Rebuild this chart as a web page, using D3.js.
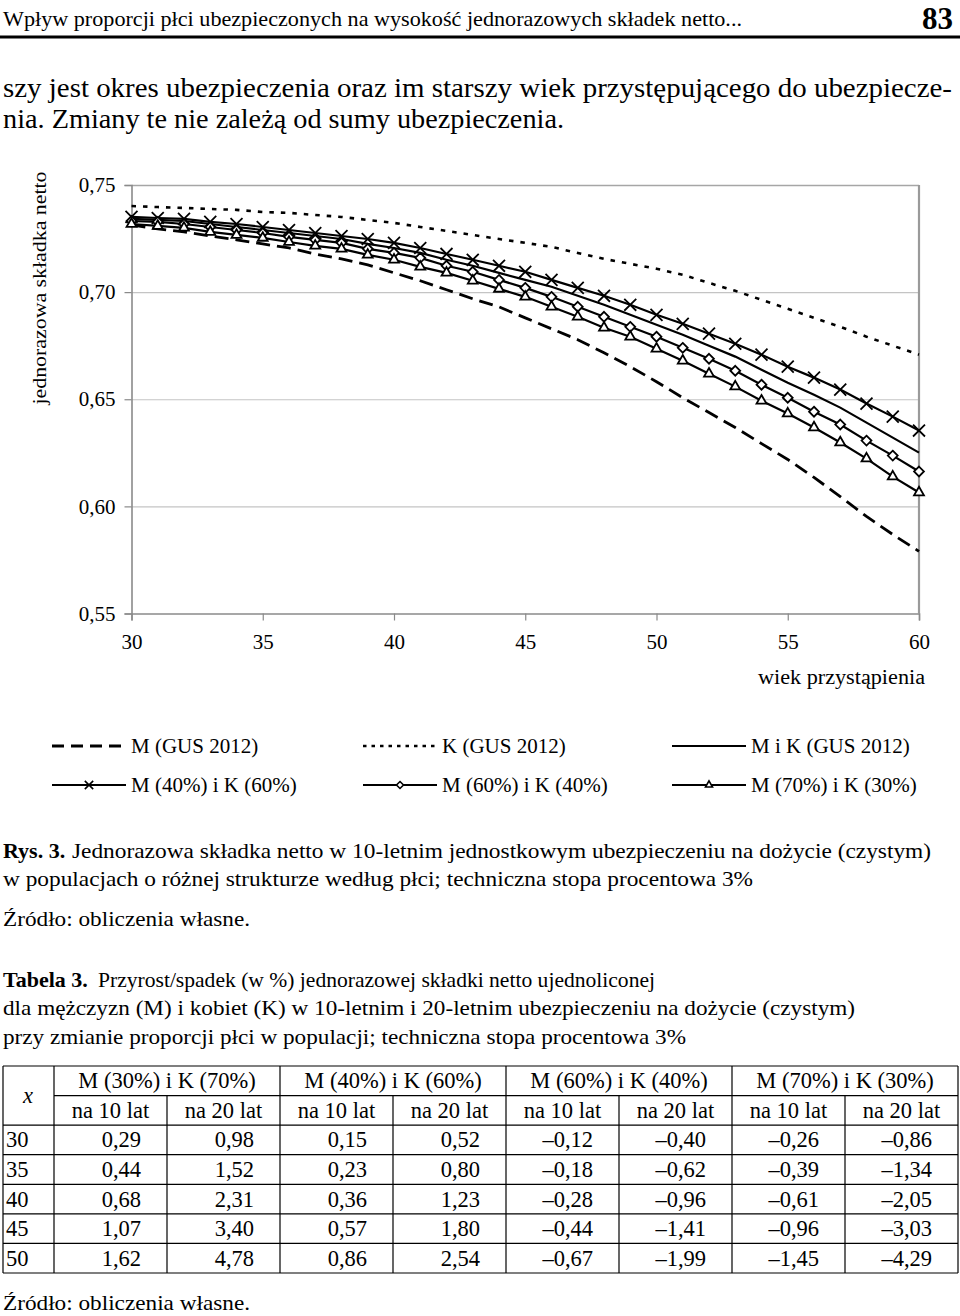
<!DOCTYPE html>
<html>
<head>
<meta charset="utf-8">
<script src="https://cdn.jsdelivr.net/npm/d3@7"></script>
<style>
body { margin: 0; background: #fff; }
svg, svg text { font-family: "Liberation Serif", "Times New Roman", serif; }
svg { display: block; }
</style>
</head>
<body>
<div id="page"></div>
<script>
// values (Rys. 3)
var ages = [30,31,32,33,34,35,36,37,38,39,40,41,42,43,44,45,46,47,48,49,50,51,52,53,54,55,56,57,58,59,60];

var mGus   = [0.7314,0.7295,0.7281,0.7262,0.7244,0.7225,0.7206,0.7178,0.7155,0.7127,0.7090,0.7053,0.7011,0.6969,0.6931,0.6880,0.6829,0.6778,0.6717,0.6652,0.6582,0.6507,0.6438,0.6368,0.6293,0.6219,0.6135,0.6046,0.5953,0.5869,0.5790];
var kGus   = [0.7402,0.7397,0.7393,0.7388,0.7384,0.7374,0.7370,0.7360,0.7351,0.7337,0.7323,0.7304,0.7286,0.7267,0.7248,0.7230,0.7211,0.7183,0.7155,0.7132,0.7109,0.7081,0.7043,0.7006,0.6964,0.6922,0.6880,0.6838,0.6792,0.6750,0.6708];
var mkGus  = [0.7342,0.7337,0.7332,0.7318,0.7304,0.7290,0.7276,0.7262,0.7248,0.7225,0.7206,0.7183,0.7151,0.7123,0.7090,0.7057,0.7025,0.6983,0.6941,0.6894,0.6848,0.6801,0.6750,0.6699,0.6638,0.6577,0.6521,0.6461,0.6391,0.6321,0.6251];
var m40k60 = [0.7351,0.7346,0.7342,0.7328,0.7318,0.7304,0.7290,0.7276,0.7262,0.7248,0.7230,0.7206,0.7178,0.7151,0.7123,0.7095,0.7057,0.7020,0.6983,0.6941,0.6894,0.6852,0.6806,0.6759,0.6708,0.6652,0.6601,0.6545,0.6480,0.6419,0.6354];
var m60k40 = [0.7332,0.7328,0.7318,0.7304,0.7290,0.7276,0.7258,0.7244,0.7230,0.7202,0.7183,0.7160,0.7123,0.7095,0.7057,0.7020,0.6978,0.6932,0.6885,0.6838,0.6792,0.6740,0.6689,0.6633,0.6568,0.6507,0.6442,0.6382,0.6307,0.6237,0.6163];
var m70k30 = [0.7318,0.7309,0.7300,0.7281,0.7267,0.7253,0.7234,0.7216,0.7202,0.7174,0.7151,0.7118,0.7090,0.7053,0.7015,0.6978,0.6932,0.6885,0.6834,0.6792,0.6736,0.6680,0.6619,0.6559,0.6493,0.6433,0.6368,0.6298,0.6223,0.6139,0.6065];

var seriesNames = ['M (GUS 2012)', 'K (GUS 2012)', 'M i K (GUS 2012)',
                   'M (40%) i K (60%)', 'M (60%) i K (40%)', 'M (70%) i K (30%)'];
var xTicks = [30,35,40,45,50,55,60];
var yTicks = [0.55,0.60,0.65,0.70,0.75];

// Tabela 3
var tabAges    = [30,35,40,45,50];
var tabGroups  = ['M (30%) i K (70%)', 'M (40%) i K (60%)', 'M (60%) i K (40%)', 'M (70%) i K (30%)'];
var tabSub     = ['na 10 lat', 'na 20 lat'];
var m30k70_10  = [0.29,0.44,0.68,1.07,1.62];
var m30k70_20  = [0.98,1.52,2.31,3.40,4.78];
var m40k60_10  = [0.15,0.23,0.36,0.57,0.86];
var m40k60_20  = [0.52,0.80,1.23,1.80,2.54];
var m60k40_10  = [-0.12,-0.18,-0.28,-0.44,-0.67];
var m60k40_20  = [-0.40,-0.62,-0.96,-1.41,-1.99];
var m70k30_10  = [-0.26,-0.39,-0.61,-0.96,-1.45];
var m70k30_20  = [-0.86,-1.34,-2.05,-3.03,-4.29];

var pl = d3.formatLocale({decimal: ',', thousands: ' ', grouping: [3], currency: ['', ''], minus: '\u2013'});
var f2 = pl.format('.2f');

var svg = d3.select('#page').append('svg')
            .attr('width', 960)
            .attr('height', 1316)
            .attr('font-family', 'Liberation Serif, Times New Roman, serif');
svg.append('rect').attr('width', 960).attr('height', 1316).attr('fill', '#fff');

function line(txt, x, y, size, len, opts) {
	opts = opts || {};
	var t = svg.append('text')
	           .attr('x', x).attr('y', y)
	           .attr('font-size', size)
	           .attr('text-anchor', opts.anchor || 'start')
	           .attr('font-weight', opts.bold ? 'bold' : null)
	           .text(txt);
	if (len) t.attr('textLength', len).attr('lengthAdjust', 'spacingAndGlyphs');
	return t;
}

// page header
line('Wpływ proporcji płci ubezpieczonych na wysokość jednorazowych składek netto...', 3, 26, 21, 739);
line('83', 953, 29, 31, null, {anchor: 'end', bold: true});
svg.append('line').attr('x1', 0).attr('x2', 960).attr('y1', 37).attr('y2', 37)
   .attr('stroke', '#000').attr('stroke-width', 3);

line('szy jest okres ubezpieczenia oraz im starszy wiek przystępującego do ubezpiecze-', 3, 97, 27, 949);
line('nia. Zmiany te nie zależą od sumy ubezpieczenia.', 3, 128, 27, 561);

// ---- chart ----
var x = d3.scaleLinear().domain([30, 60]).range([131.5, 919]);
var y = d3.scaleLinear().domain([0.55, 0.75]).range([613.5, 185]);

var grid = svg.append('g').attr('transform', 'translate(' + x(30) + ',0)')
              .call(d3.axisLeft(y).tickValues(yTicks.slice(1)).tickSize(-(x(60) - x(30))).tickFormat(''));
grid.select('.domain').remove();
grid.selectAll('line').attr('stroke', '#c4c4c4').attr('stroke-width', 1.2);
grid.selectAll('.tick').filter(function(d) { return d === 0.75; })
    .select('line').attr('stroke', '#a6a6a6').attr('stroke-width', 1.6);

svg.append('line').attr('x1', x(60)).attr('x2', x(60)).attr('y1', y(0.75)).attr('y2', y(0.55))
   .attr('stroke', '#9a9a9a').attr('stroke-width', 2.2);

var yAxis = svg.append('g').attr('transform', 'translate(' + x(30) + ',0)')
               .call(d3.axisLeft(y).tickValues(yTicks).tickSize(7).tickPadding(9).tickFormat(f2));
var xAxis = svg.append('g').attr('transform', 'translate(0,' + y(0.55) + ')')
               .call(d3.axisBottom(x).tickValues(xTicks).tickSize(7).tickPadding(14).tickFormat(d3.format('d')));
[yAxis, xAxis].forEach(function(ax) {
	ax.attr('font-family', null).attr('font-size', null);
	ax.select('.domain').attr('stroke', '#8a8a8a').attr('stroke-width', 1.6);
	ax.selectAll('.tick line').attr('stroke', '#8a8a8a').attr('stroke-width', 1.2);
	ax.selectAll('.tick text').attr('fill', '#000').attr('font-size', 21);
});

svg.append('text')
   .attr('transform', 'translate(46,288) rotate(-90)')
   .attr('text-anchor', 'middle')
   .attr('font-size', 19)
   .attr('textLength', 233).attr('lengthAdjust', 'spacingAndGlyphs')
   .text('jednorazowa składka netto');
line('wiek przystąpienia', 925, 684, 20, 167, {anchor: 'end'});

var seriesData = [mGus, kGus, mkGus, m40k60, m60k40, m70k30];
var styles = [
	{dash: '14,7', width: 2.8, marker: null},
	{dash: '4.5,7', width: 2.6, marker: null},
	{dash: null, width: 2.2, marker: null},
	{dash: null, width: 2.2, marker: d3.symbolTimes, size: 95, fill: 'none'},
	{dash: null, width: 2.2, marker: d3.symbolDiamond2, size: 62, fill: '#fff'},
	{dash: null, width: 2.2, marker: d3.symbolTriangle2, size: 70, fill: '#fff'}
];

var path = d3.line()
             .x(function(d, i) { return x(ages[i]); })
             .y(function(d) { return y(d); });

var plot = svg.append('g');
seriesData.forEach(function(vals, s) {
	plot.append('path')
	    .attr('d', path(vals))
	    .attr('fill', 'none')
	    .attr('stroke', '#000')
	    .attr('stroke-width', styles[s].width)
	    .attr('stroke-dasharray', styles[s].dash);
});
seriesData.forEach(function(vals, s) {
	var st = styles[s];
	if (!st.marker) return;
	plot.append('g').selectAll('path').data(vals).enter()
	    .append('path')
	    .attr('transform', function(d, i) { return 'translate(' + x(ages[i]) + ',' + y(d) + ')'; })
	    .attr('d', d3.symbol().type(st.marker).size(st.size))
	    .attr('fill', st.fill)
	    .attr('stroke', '#000')
	    .attr('stroke-width', 1.8);
});

// legend
var legCols = [52, 363, 672];
var legRows = [746, 785];
var leg = svg.append('g').selectAll('g').data(seriesNames).enter().append('g')
             .attr('transform', function(d, i) {
	return 'translate(' + legCols[i % 3] + ',' + legRows[Math.floor(i / 3)] + ')';
});
leg.append('line')
   .attr('x1', 0).attr('x2', 74).attr('y1', 0).attr('y2', 0)
   .attr('stroke', '#000')
   .attr('stroke-width', function(d, i) { return styles[i].width; })
   .attr('stroke-dasharray', function(d, i) { return i === 0 ? '12,7' : (i === 1 ? '3.5,5' : null); });
leg.filter(function(d, i) { return styles[i].marker; })
   .append('path')
   .attr('transform', 'translate(37,0)')
   .attr('d', function(d) {
	var st = styles[seriesNames.indexOf(d)];
	return d3.symbol().type(st.marker).size(st.size * 0.5)();
})
   .attr('fill', function(d) { return styles[seriesNames.indexOf(d)].fill; })
   .attr('stroke', '#000')
   .attr('stroke-width', 1.6);
leg.append('text')
   .attr('x', 79).attr('y', 7)
   .attr('font-size', 21)
   .text(function(d) { return d; });

// caption
line('Rys. 3.', 3, 858, 22, null, {bold: true});
line('Jednorazowa składka netto w 10-letnim jednostkowym ubezpieczeniu na dożycie (czystym)', 72, 858, 22, 859);
line('w populacjach o różnej strukturze według płci; techniczna stopa procentowa 3%', 3, 886, 22, 750);
line('Źródło: obliczenia własne.', 3, 926, 22, 247);

line('Tabela 3.', 3, 987, 22, null, {bold: true});
line('Przyrost/spadek (w %) jednorazowej składki netto ujednoliconej', 98, 987, 22, 557);
line('dla mężczyzn (M) i kobiet (K) w 10-letnim i 20-letnim ubezpieczeniu na dożycie (czystym)', 3, 1015, 22, 852);
line('przy zmianie proporcji płci w populacji; techniczna stopa procentowa 3%', 3, 1044, 22, 683);

// ---- table ----
var tabCols = [m30k70_10, m30k70_20, m40k60_10, m40k60_20, m60k40_10, m60k40_20, m70k30_10, m70k30_20];
var cx = d3.scaleLinear().domain([0, 8]).range([54, 958]);
var ry = d3.scaleLinear().domain([0, 7]).range([1066, 1273]);
var tab = svg.append('g').attr('stroke', '#000').attr('stroke-width', 1.2);

// horizontal rules
tab.selectAll('.h').data(d3.range(8)).enter().append('line')
   .attr('x1', function(d) { return d === 1 ? cx(0) : 3; })
   .attr('x2', cx(8))
   .attr('y1', function(d) { return ry(d); })
   .attr('y2', function(d) { return ry(d); });
// vertical rules
tab.append('line').attr('x1', 3).attr('x2', 3).attr('y1', ry(0)).attr('y2', ry(7));
tab.selectAll('.v').data(d3.range(9)).enter().append('line')
   .attr('x1', function(d) { return cx(d); })
   .attr('x2', function(d) { return cx(d); })
   .attr('y1', function(d) { return d % 2 === 0 ? ry(0) : ry(1); })
   .attr('y2', ry(7));

var tt = svg.append('g').attr('font-size', 22.5);
tt.append('text').attr('x', 28).attr('y', ry(1) + 7).attr('text-anchor', 'middle')
  .attr('font-style', 'italic').text('x');
tt.selectAll('.g').data(tabGroups).enter().append('text')
  .attr('x', function(d, i) { return cx(i * 2 + 1); })
  .attr('y', (ry(0) + ry(1)) / 2 + 7.5)
  .attr('text-anchor', 'middle')
  .text(function(d) { return d; });
tt.selectAll('.s').data(tabCols).enter().append('text')
  .attr('x', function(d, i) { return cx(i + 0.5); })
  .attr('y', (ry(1) + ry(2)) / 2 + 7.5)
  .attr('text-anchor', 'middle')
  .text(function(d, i) { return tabSub[i % 2]; });
tt.selectAll('.a').data(tabAges).enter().append('text')
  .attr('x', 6)
  .attr('y', function(d, i) { return (ry(i + 2) + ry(i + 3)) / 2 + 7.5; })
  .text(function(d) { return d; });
tabCols.forEach(function(col, c) {
	tt.append('g').selectAll('text').data(col).enter().append('text')
	  .attr('x', cx(c + 1) - 26)
	  .attr('y', function(d, i) { return (ry(i + 2) + ry(i + 3)) / 2 + 7.5; })
	  .attr('text-anchor', 'end')
	  .text(function(d) { return f2(d); });
});

line('Źródło: obliczenia własne.', 3, 1310, 22, 247);
</script>
</body>
</html>
